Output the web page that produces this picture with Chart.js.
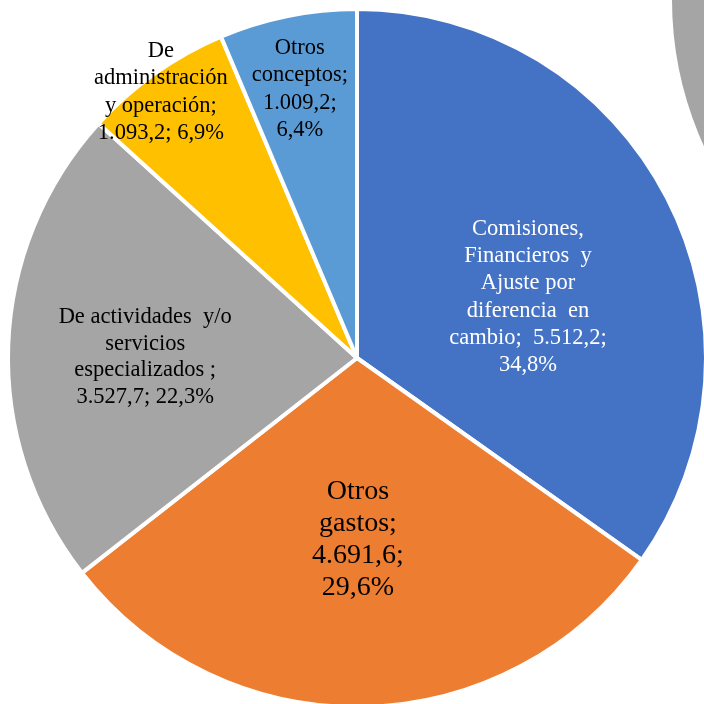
<!DOCTYPE html>
<html>
<head>
<meta charset="utf-8">
<script src="https://cdn.jsdelivr.net/npm/chart.js@4/dist/chart.umd.min.js"></script>
<style>
  html, body { margin: 0; padding: 0; background: #fff; }
  #wrap { position: relative; width: 704px; height: 704px; overflow: hidden; }
  #bg { position: absolute; left: 672px; top: -350px; width: 700px; height: 700px; border-radius: 50%; background: #A5A5A5; }
  #mainChart { position: absolute; left: 0; top: 0; }
</style>
</head>
<body>
<div id="wrap">
  <div id="bg"></div>
  <canvas id="mainChart" width="720" height="720"></canvas>
</div>
<script>
const categories = [
    'Comisiones, Financieros y Ajuste por diferencia en cambio',
    'Otros gastos',
    'De actividades y/o servicios especializados',
    'De administración y operación',
    'Otros conceptos'
];
const values = [5512.2, 4691.6, 3527.7, 1093.2, 1009.2];
const percents = ['34,8%', '29,6%', '22,3%', '6,9%', '6,4%'];
const colors = ['#4472C4', '#ED7D31', '#A5A5A5', '#FFC000', '#5B9BD5'];

// label text, split the way the reference wraps it
const labelLines = [
    ['Comisiones,', 'Financieros  y', 'Ajuste por', 'diferencia  en', 'cambio;  5.512,2;', '34,8%'],
    ['Otros', 'gastos;', '4.691,6;', '29,6%'],
    ['De actividades  y/o', 'servicios', 'especializados ;', '3.527,7; 22,3%'],
    ['De', 'administración', 'y operación;', '1.093,2; 6,9%'],
    ['Otros', 'conceptos;', '1.009,2;', '6,4%']
];
const labelColors = ['#ffffff', '#000000', '#000000', '#000000', '#000000'];
// [angle from top in degrees, fraction of radius, font px, line height]
const labelPlace = [
    [70.4, 0.520, 22.5, 27.3],
    [179.7, 0.521, 28, 32],
    [-89.7, 0.607, 22.5, 26.5],
    [-36.4, 0.947, 22.5, 27.5],
    [-12.0, 0.788, 22.5, 27.3]
];

const sliceLabels = {
    id: 'sliceLabels',
    afterDatasetsDraw(chart) {
        const ctx = chart.ctx;
        const arcs = chart.getDatasetMeta(0).data;
        ctx.save();
        ctx.textAlign = 'center';
        ctx.textBaseline = 'middle';
        arcs.forEach((arc, i) => {
            const [deg, frac, size, lh] = labelPlace[i];
            const a = deg * Math.PI / 180;
            const r = arc.outerRadius * frac;
            const x = arc.x + r * Math.sin(a);
            const y = arc.y - r * Math.cos(a);
            const lines = labelLines[i];
            ctx.font = `${size}px "Liberation Serif", "Times New Roman", serif`;
            ctx.fillStyle = labelColors[i];
            const top = y - (lines.length - 1) * lh / 2;
            lines.forEach((t, j) => ctx.fillText(t, x, top + j * lh));
        });
        ctx.restore();
    }
};

new Chart(document.getElementById('mainChart'), {
    type: 'pie',
    data: {
        labels: categories,
        datasets: [{
            data: values,
            backgroundColor: colors,
            borderColor: '#ffffff',
            borderWidth: 4
        }]
    },
    options: {
        responsive: false,
        animation: false,
        devicePixelRatio: 1,
        layout: { padding: { left: 6, top: 7, right: 12, bottom: 11 } },
        plugins: { legend: { display: false }, tooltip: { enabled: false } }
    },
    plugins: [sliceLabels]
});
</script>
</body>
</html>
